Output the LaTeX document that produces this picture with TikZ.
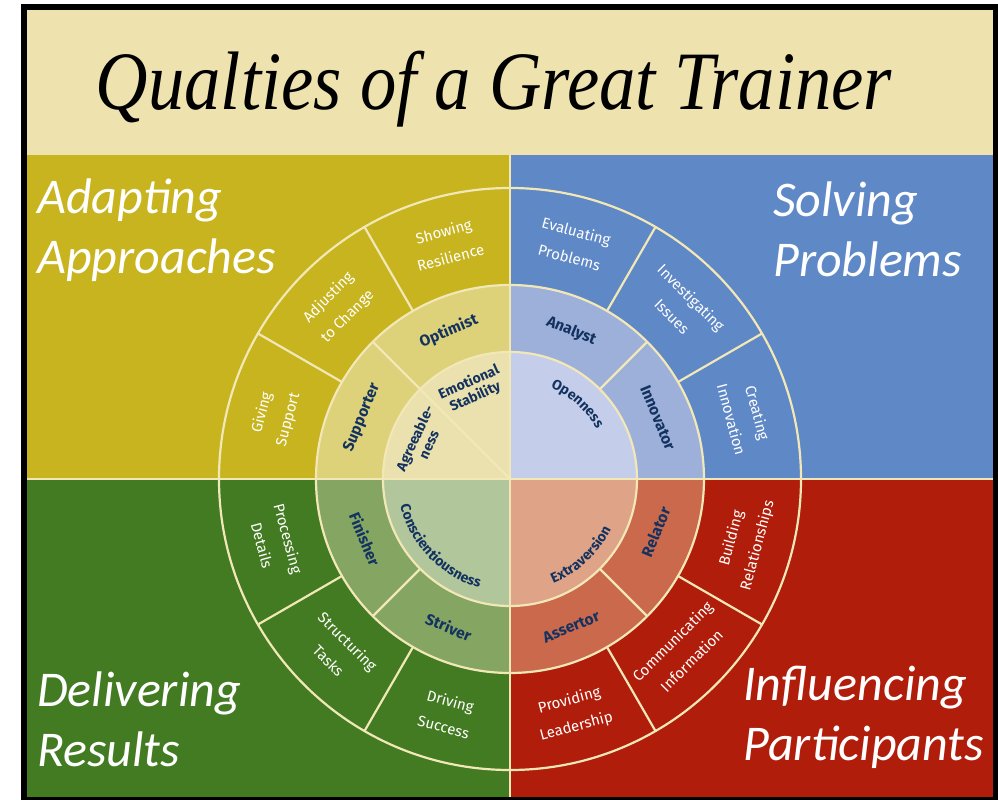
\documentclass[tikz,border=0pt]{standalone}
\usepackage{fontspec}
\usetikzlibrary{decorations.text}
\newfontfamily\titlefont{Liberation Serif}
\newfontfamily\quadfont{Carlito}
\newfontfamily\ringfont{Fira Sans}
\definecolor{band}{HTML}{EEE2AE}
\definecolor{adaptbg}{HTML}{C8B41E}
\definecolor{adaptmid}{HTML}{DDD17A}
\definecolor{adaptin}{HTML}{EBE1AE}
\definecolor{solvebg}{HTML}{5F88C6}
\definecolor{solvemid}{HTML}{9CB0DA}
\definecolor{solvein}{HTML}{C4CEEA}
\definecolor{delivbg}{HTML}{427B21}
\definecolor{delivmid}{HTML}{85A562}
\definecolor{delivin}{HTML}{B1C69B}
\definecolor{inflbg}{HTML}{B01D0A}
\definecolor{inflmid}{HTML}{CB694C}
\definecolor{inflin}{HTML}{DFA387}
\definecolor{rim}{HTML}{F1E7B7}
\definecolor{navy}{HTML}{13325F}
\newcommand\traitfont{\ringfont\bfseries\fontsize{14}{15.5}\selectfont\color{navy}}
\tikzset{
  quadtitle/.style={text=white, font=\quadfont\itshape\fontsize{50}{60}\selectfont,
    align=left, anchor=base west, inner sep=0pt},
  skill/.style={text=white, font=\ringfont\fontsize{15}{27}\selectfont, align=center, inner sep=0pt},
  role/.style={text=navy, font=\ringfont\bfseries\fontsize{15.5}{18}\selectfont, align=center, inner sep=0pt},
  trait/.style={text=navy, font=\traitfont, align=center, inner sep=0pt},
  rimline/.style={draw=rim, line width=2.2pt},
}
\begin{document}
\begin{tikzpicture}[x=1pt,y=1pt]
\useasboundingbox (-510,-321) rectangle (488,479);
\fill[white] (-510,-321) rectangle (488,479);
% frame and background
\fill[black] (-489,-321) rectangle (488,475);
\fill[band] (-483,324) rectangle (483,469);
\fill[adaptbg] (-483,0) rectangle (0,324);
\fill[solvebg] (0,0) rectangle (483,324);
\fill[delivbg] (-483,-318) rectangle (0,0);
\fill[inflbg] (0,-318) rectangle (483,0);
\node[font=\titlefont\itshape\fontsize{83}{90}\selectfont, xscale=0.875, anchor=base, inner sep=0pt]
  (title) at (-16,369) {Qualties of a Great Trainer};
% middle ring
\fill[adaptmid] (0,0) -- (90:194) arc (90:180:194) -- cycle;
\fill[solvemid] (0,0) -- (0:194) arc (0:90:194) -- cycle;
\fill[delivmid] (0,0) -- (180:194) arc (180:270:194) -- cycle;
\fill[inflmid] (0,0) -- (270:194) arc (270:360:194) -- cycle;
% inner disc
\fill[adaptin] (0,0) -- (90:127) arc (90:180:127) -- cycle;
\fill[solvein] (0,0) -- (0:127) arc (0:90:127) -- cycle;
\fill[delivin] (0,0) -- (180:127) arc (180:270:127) -- cycle;
\fill[inflin] (0,0) -- (270:127) arc (270:360:127) -- cycle;
% lines
\draw[rimline] (0,-318) -- (0,324);
\draw[rimline] (-483,0) -- (483,0);
\draw[rimline] (0,0) circle (291) (0,0) circle (194) (0,0) circle (127);
\foreach \a in {30,60,120,150,210,240,300,330}
  \draw[rimline] (\a:194) -- (\a:291);
\foreach \a in {45,225,315}
  \draw[rimline] (\a:127) -- (\a:194);
\draw[rimline] (0,0) -- (135:194);
% quadrant titles
\node[quadtitle] (adapt) at (-473,205) {Adapting\\Approaches};
\node[quadtitle] (solve) at (263,202) {Solving\\Problems};
\node[quadtitle] (deliver) at (-473,-287) {Delivering\\Results};
\node[quadtitle] (influence) at (233,-281) {Influencing\\Participants};
% outer ring
\node[skill, rotate=15] (resil) at (105:243) {Showing\\Resilience};
\node[skill, rotate=45] (adjust) at (135:243) {Adjusting\\to Change};
\node[skill, rotate=75] (support) at (165:243) {Giving\\Support};
\node[skill, rotate=-15] (evalp) at (75:243) {Evaluating\\Problems};
\node[skill, rotate=-45] (invest) at (45:243) {Investigating\\Issues};
\node[skill, rotate=-75] (create) at (15:243) {Creating\\Innovation};
\node[skill, rotate=75] (build) at (-15:243) {Building\\Relationships};
\node[skill, rotate=45] (commun) at (-45:243) {Communicating\\Information};
\node[skill, rotate=15] (lead) at (-75:243) {Providing\\Leadership};
\node[skill, rotate=-75] (process) at (195:243) {Processing\\Details};
\node[skill, rotate=-45] (struct) at (225:243) {Structuring\\Tasks};
\node[skill, rotate=-15] (drive) at (255:243) {Driving\\Success};
% middle ring
\node[role, rotate=22.5] (optimist) at (112.5:160) {Optimist};
\node[role, rotate=67.5] (supporter) at (157.5:160) {Supporter};
\node[role, rotate=-22.5] (analyst) at (67.5:160) {Analyst};
\node[role, rotate=-67.5] (innovator) at (22.5:160) {Innovator};
\node[role, rotate=67.5] (relator) at (-20:155) {Relator};
\node[role, rotate=22.5] (assertor) at (-67.5:160) {Assertor};
\node[role, rotate=-22.5] (striver) at (247.5:160) {Striver};
\node[role, rotate=-67.5] (finisher) at (202.5:157) {Finisher};
% inner disc
\node[trait, rotate=24] (emotion) at (113:97) {Emotional\\Stability};
\node[trait, rotate=65] (agree) at (157:96) {Agreeable-\\ness};
\path[decorate, decoration={text along path, text align=center,
  text={|\traitfont|Openness}}] (68:100) arc (68:28:100);
\path[decorate, decoration={text along path, text align=center,
  text={|\traitfont|Conscientiousness}}] (192:113) arc (192:256:113);
\path[decorate, decoration={text along path, text align=center,
  text={|\traitfont|Extraversion}}] (-70:113) arc (-70:-24:113);
\end{tikzpicture}
\end{document}
